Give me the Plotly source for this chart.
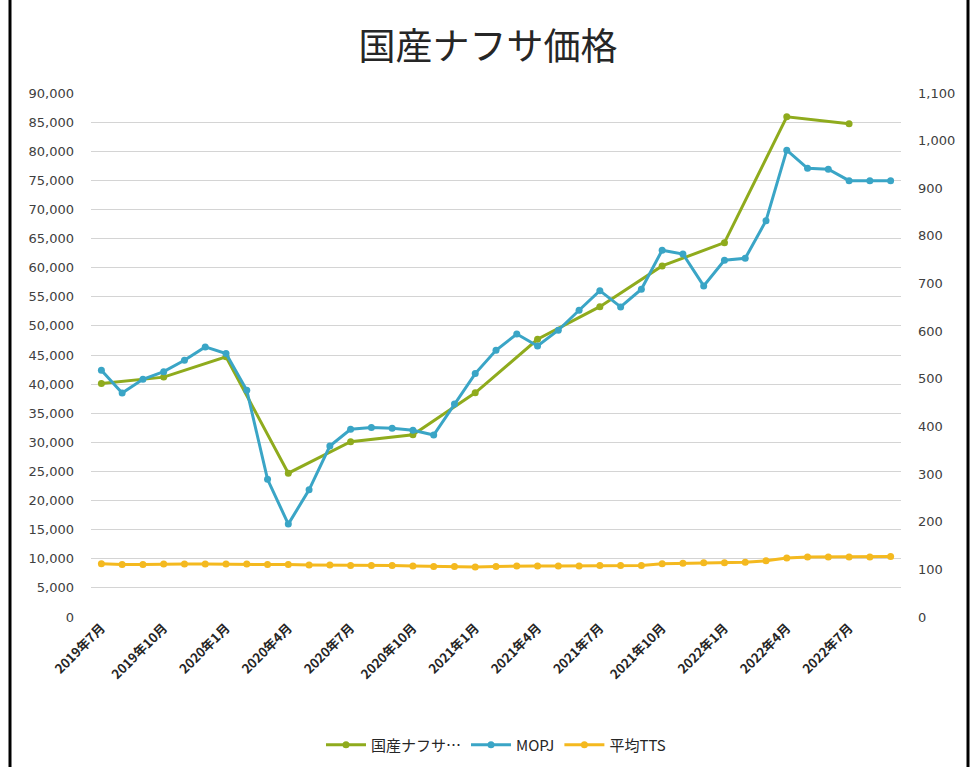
import plotly.graph_objects as go

months = ["2019年7月", "2019年8月", "2019年9月", "2019年10月", "2019年11月", "2019年12月",
          "2020年1月", "2020年2月", "2020年3月", "2020年4月", "2020年5月", "2020年6月",
          "2020年7月", "2020年8月", "2020年9月", "2020年10月", "2020年11月", "2020年12月",
          "2021年1月", "2021年2月", "2021年3月", "2021年4月", "2021年5月", "2021年6月",
          "2021年7月", "2021年8月", "2021年9月", "2021年10月", "2021年11月", "2021年12月",
          "2022年1月", "2022年2月", "2022年3月", "2022年4月", "2022年5月", "2022年6月",
          "2022年7月", "2022年8月", "2022年9月"]

# 国産ナフサ価格 (円/kl), quarterly
naphtha = [40100, None, None, 41200, None, None, 44700, None, None, 24700, None, None,
           30100, None, None, 31300, None, None, 38500, None, None, 47700, None, None,
           53300, None, None, 60300, None, None, 64300, None, None, 85900, None, None,
           84700, None, None]

# MOPJ (right axis)
mopj = [518, 470, 499, 515, 539, 567, 553, 476, 289, 195, 267, 359,
        394, 398, 396, 392, 382, 447, 511, 560, 594, 569, 602, 644,
        685, 651, 688, 770, 762, 695, 749, 753, 832, 980, 942, 940,
        916, 916, 916]

# 平均TTS (right axis)
tts = [112, 110, 110, 111, 111, 111, 111, 111, 110, 110, 109, 109,
       108, 108, 108, 107, 106, 106, 105, 106, 107, 107, 107, 107,
       108, 108, 108, 112, 113, 114, 114, 115, 118, 124, 126, 126,
       126, 126, 127]

tick_idx = list(range(0, len(months), 3))
tick_labels = [months[i] for i in tick_idx]

x = list(range(len(months)))

GREEN = "#8fab1d"
BLUE = "#3aa5c6"
YELLOW = "#f4b91f"

fig = go.Figure()
fig.add_trace(go.Scatter(x=x, y=naphtha, name="国産ナフサ…", mode="lines+markers",
                         connectgaps=True, line=dict(color=GREEN, width=3),
                         marker=dict(color=GREEN, size=7), yaxis="y"))
fig.add_trace(go.Scatter(x=x, y=mopj, name="MOPJ", mode="lines+markers",
                         line=dict(color=BLUE, width=3),
                         marker=dict(color=BLUE, size=7), yaxis="y2"))
fig.add_trace(go.Scatter(x=x, y=tts, name="平均TTS", mode="lines+markers",
                         line=dict(color=YELLOW, width=3),
                         marker=dict(color=YELLOW, size=7), yaxis="y2"))

tickfont = dict(family="DejaVu Sans, sans-serif", size=13, color="#404040")

# frame coordinates in paper units
L, R, T, B = 91, 901, 93, 617
W, H = R - L, B - T
def px(v):
    return (v - L) / W
def py(v):
    return (B - v) / H

fig.update_layout(
    width=976, height=767,
    margin=dict(l=L, r=976 - R, t=T, b=767 - B, autoexpand=False),
    paper_bgcolor="white", plot_bgcolor="white",
    title=dict(text="国産ナフサ価格", x=0.5, xanchor="center", y=1 - 47 / 767, yanchor="middle",
               font=dict(family="Noto Sans CJK JP", size=37, color="#262626")),
    xaxis=dict(range=[-0.5, len(months) - 0.5], tickmode="array", tickvals=tick_idx,
               ticktext=tick_labels, tickangle=-45, showgrid=False, zeroline=False,
               showline=False, ticks="", automargin=False,
               tickfont=dict(family="Noto Sans CJK JP", size=13, color="#262626", weight="bold")),
    yaxis=dict(range=[0, 90000], dtick=5000, tickformat=",", showgrid=True,
               gridcolor="#d4d4d4", gridwidth=1, zeroline=False, showline=False,
               ticks="", tickfont=tickfont, ticklabelstandoff=16, automargin=False),
    yaxis2=dict(range=[0, 1100], dtick=100, tickformat=",", overlaying="y", side="right",
                showgrid=False, zeroline=False, showline=False, ticks="",
                tickfont=tickfont, ticklabelstandoff=16, automargin=False),
    legend=dict(orientation="h", x=0.5, xanchor="center", y=py(745), yanchor="middle",
                font=dict(family="Noto Sans CJK JP", size=15, color="#262626"),
                tracegroupgap=0, itemwidth=40),
    showlegend=True,
    shapes=[
        dict(type="line", xref="paper", yref="paper", x0=px(10), x1=px(10), y0=py(0), y1=py(767),
             line=dict(color="black", width=3)),
        dict(type="line", xref="paper", yref="paper", x0=px(968), x1=px(968), y0=py(0), y1=py(767),
             line=dict(color="black", width=3)),
    ],
)

fig.write_html("out.html", config={"displayModeBar": False},
               post_script="document.body.style.margin='0';document.body.style.overflow='hidden';")
